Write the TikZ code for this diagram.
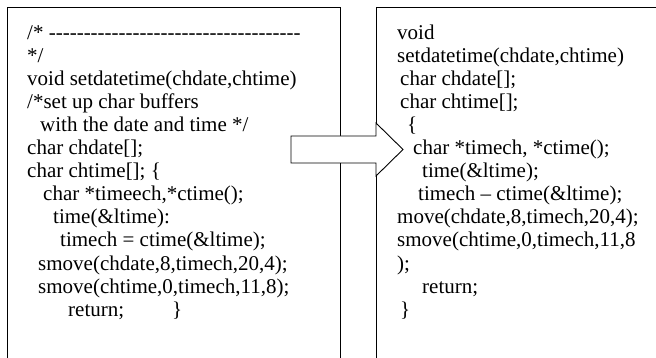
\documentclass[tikz,border=0pt]{standalone}
\usepackage{fontspec}
\newfontfamily\codefont{Liberation Serif}
\newcommand\hyphrun[1]{\foreach \n in {1,...,#1}{-\kern0pt}}
\tikzset{
  boxline/.style={draw=black, line width=0.9pt},
  bigarrow/.style={draw=black, line width=0.9pt, fill=white, line join=miter},
  codeline/.style={anchor=base west, inner sep=0pt, font=\codefont\fontsize{21}{23}\selectfont, text=black}
}
\begin{document}
\begin{tikzpicture}[x=1pt,y=-1pt]
\useasboundingbox (0,0) rectangle (656,358);
\fill[white] (0,0) rectangle (656,358);
\clip (0,0) rectangle (656,358);
% boxes (open at the bottom, right box runs past the right edge)
\draw[boxline] (7,370) -- (7,7) -- (340,7) -- (340,370);
\draw[boxline] (376,370) -- (376,7) -- (670,7);
% block arrow
\draw[bigarrow] (291,136) -- (376,136) -- (376,123) -- (403,149.5) -- (376,176) -- (376,163) -- (291,163) -- cycle;
% left box text
\node[codeline] (l1)  at (27,40)  {/* \hyphrun{36}};
\node[codeline] (l2)  at (27,63)  {*/};
\node[codeline] (l3)  at (27,86)  {void setdatetime(chdate,chtime)};
\node[codeline] (l4)  at (27,109) {/*set up char buffers};
\node[codeline] (l5)  at (40,132) {with the date and time */};
\node[codeline] (l6)  at (27,155) {char chdate[];};
\node[codeline] (l7)  at (27,178) {char chtime[]; \{};
\node[codeline] (l8)  at (43,201) {char *timeech,*ctime();};
\node[codeline] (l9)  at (53,224) {time(\&ltime):};
\node[codeline] (l10) at (60,247) {timech = ctime(\&ltime);};
\node[codeline] (l11) at (38,270) {smove(chdate,8,timech,20,4);};
\node[codeline] (l12) at (38,293) {smove(chtime,0,timech,11,8);};
\node[codeline] (l13) at (68,316) {return;};
\node[codeline] (l13b) at (172,316) {\}};
% right box text
\node[codeline] (r1)  at (397,40)  {void};
\node[codeline] (r2)  at (397,63)  {setdatetime(chdate,chtime)};
\node[codeline] (r3)  at (400,86)  {char chdate[];};
\node[codeline] (r4)  at (400,109) {char chtime[];};
\node[codeline] (r5)  at (407,132) {\{};
\node[codeline] (r6)  at (413,155) {char *timech, *ctime();};
\node[codeline] (r7)  at (422,178) {time(\&ltime);};
\node[codeline] (r8)  at (418,201) {timech – ctime(\&ltime);};
\node[codeline] (r9)  at (397,224) {move(chdate,8,timech,20,4);};
\node[codeline] (r10) at (397,247) {smove(chtime,0,timech,11,8};
\node[codeline] (r11) at (397,270) {);};
\node[codeline] (r12) at (422,293) {return;};
\node[codeline] (r13) at (400,316) {\}};
\end{tikzpicture}
\end{document}
